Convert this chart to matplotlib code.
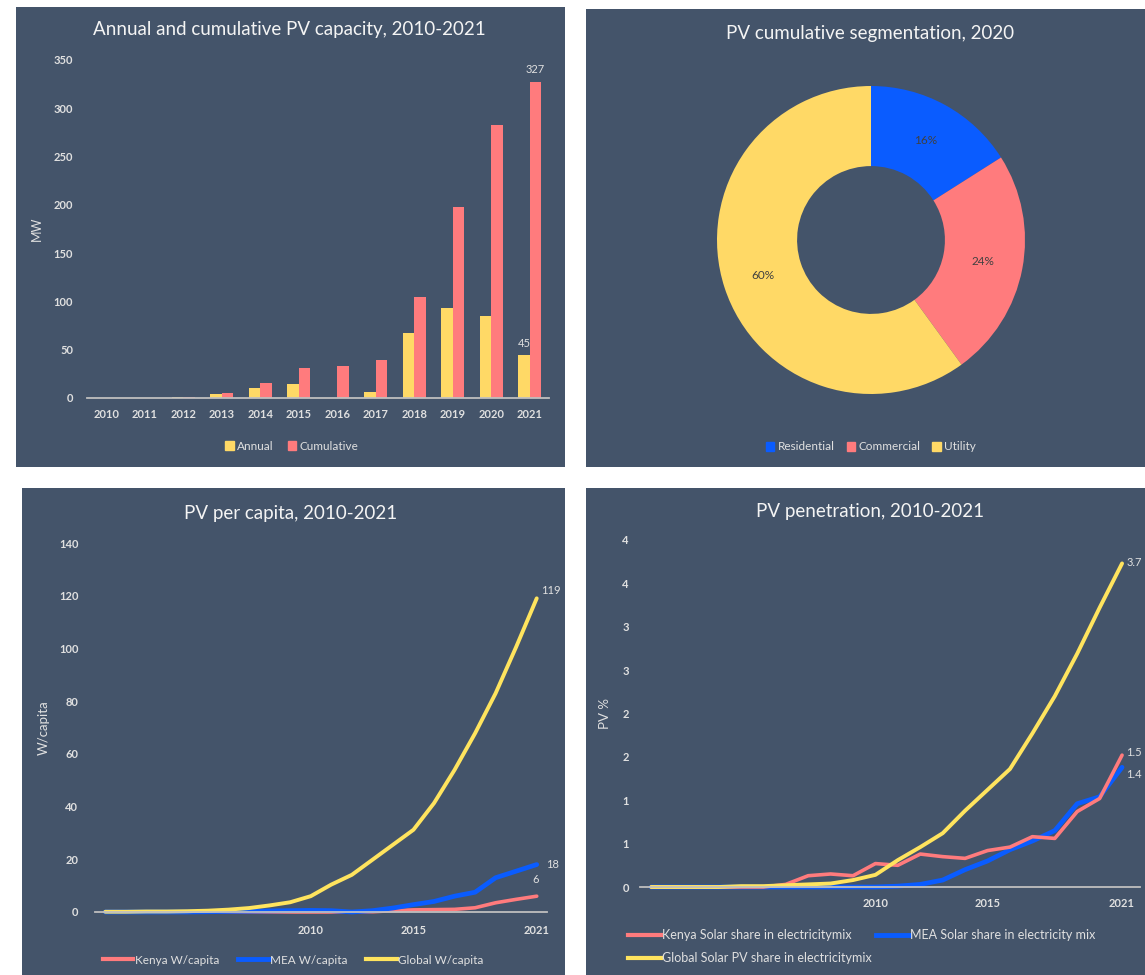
import matplotlib
matplotlib.use('Agg')
import matplotlib.pyplot as plt
import numpy as np
from matplotlib.patches import Rectangle, Patch
from matplotlib.lines import Line2D

plt.rcParams['font.family'] = ['Lato', 'DejaVu Sans']

# ---------------- data ----------------
bar_years = ['2010', '2011', '2012', '2013', '2014', '2015',
             '2016', '2017', '2018', '2019', '2020', '2021']
annual_mw = [0, 0, 1, 4, 10, 14, 0, 6, 67, 93, 85, 45]
cumulative_mw = [0, 0, 1.5, 5, 16, 31, 33, 39, 105, 198, 283, 327]
bar_ticks = [0, 50, 100, 150, 200, 250, 300, 350]

seg_labels = ['Residential', 'Commercial', 'Utility']
seg_share = [16, 24, 60]

line_years = list(range(2000, 2022))
line_tick_years = [2010, 2015, 2021]
kenya_wcap = [0, 0, 0, 0, 0, 0, 0, 0, 0, 0, 0, 0, 0,
              0.1, 0.5, 0.8, 0.9, 1.0, 1.6, 3.5, 4.8, 6.0]
mea_wcap = [0, 0, 0, 0, 0, 0.1, 0.2, 0.3, 0.4, 0.5, 0.6, 0.5, 0.0,
            0.5, 1.5, 2.8, 4.0, 6.0, 7.5, 13.0, 15.5, 18.0]
global_wcap = [0.1, 0.1, 0.2, 0.2, 0.3, 0.5, 0.9, 1.5, 2.5, 3.7, 6.0,
               10.4, 14.1, 19.8, 25.5, 31.2, 41.3, 53.9, 67.8, 83.0, 100.6, 119.0]
wcap_ticks = [0, 20, 40, 60, 80, 100, 120, 140]

kenya_pen = [0, 0, 0, 0, 0, 0, 0.03, 0.13, 0.15, 0.13, 0.27, 0.25, 0.38,
             0.35, 0.33, 0.42, 0.46, 0.58, 0.56, 0.87, 1.02, 1.52]
mea_pen = [0, 0, 0, 0, 0, 0, 0, 0, 0, 0, 0, 0.01, 0.03,
           0.08, 0.20, 0.30, 0.43, 0.53, 0.65, 0.96, 1.04, 1.38]
global_pen = [0, 0, 0, 0, 0.01, 0.01, 0.02, 0.03, 0.04, 0.08, 0.14, 0.31, 0.46,
              0.62, 0.88, 1.12, 1.36, 1.77, 2.20, 2.69, 3.22, 3.73]

pen_ticks = [0, 0.5, 1, 1.5, 2, 2.5, 3, 3.5, 4]
pen_tick_labels = ['0', '1', '1', '2', '2', '3', '3', '4', '4']

# ---------------- style ----------------
W, H = 1145, 975
BG = '#44546A'
TXT = '#E0E0E0'
TITLE = '#F4F4F4'
AXIS = '#BFBFBF'
YELLOW = '#FFD966'
RED = '#FF7B7D'
BLUE = '#0A5CFF'
GYELLOW = '#FFE45E'
TICK_FS = 8
LEG_FS = 8.5
TICK_KW = dict(fontweight='bold', fontsize=TICK_FS, color=TXT)

fig = plt.figure(figsize=(W / 100, H / 100), dpi=100, facecolor='white')


def px_rect(x0, y0, x1, y1):
    return [x0 / W, 1 - y1 / H, (x1 - x0) / W, (y1 - y0) / H]


for r in [(16, 7, 565, 467), (586, 9, 1146, 467), (22, 488, 565, 976), (586, 488, 1146, 976)]:
    x0, y0, w, h = px_rect(*r)
    fig.add_artist(Rectangle((x0, y0), w, h, transform=fig.transFigure,
                             facecolor=BG, edgecolor='none', zorder=-5))


def fig_text(x, y, s, **kw):
    fig.text(x / W, 1 - y / H, s, ha='center', va='center', **kw)


def style_axes(ax, ypad, xpad):
    ax.set_facecolor('none')
    for s in ['top', 'right', 'left']:
        ax.spines[s].set_visible(False)
    ax.spines['bottom'].set_color(AXIS)
    ax.spines['bottom'].set_linewidth(1.3)
    ax.tick_params(axis='y', length=0, pad=ypad)
    ax.tick_params(axis='x', length=0, pad=xpad)


# ---------------- top-left: bars ----------------
ax1 = fig.add_axes(px_rect(87, 60, 549, 398))
style_axes(ax1, 10, 8)
x = np.arange(len(bar_years))
bw = 0.29
ax1.bar(x - 0.15, annual_mw, bw, color=YELLOW, label='Annual')
ax1.bar(x + 0.15, cumulative_mw, bw, color=RED, label='Cumulative')
ax1.set_xlim(-0.5, len(bar_years) - 0.5)
ax1.set_ylim(0, 350)
ax1.set_yticks(bar_ticks, [str(t) for t in bar_ticks], **TICK_KW)
ax1.set_xticks(x, bar_years, **TICK_KW)
ax1.set_ylabel('MW', color=TXT, fontsize=9)
ax1.yaxis.set_label_coords(-0.095, 0.5)
ax1.annotate(f'{cumulative_mw[-1]:.0f}', (x[-1] + 0.15, cumulative_mw[-1]), xytext=(0, 5),
             textcoords='offset points', ha='center', va='bottom', fontsize=8, color=TXT)
ax1.annotate(f'{annual_mw[-1]:.0f}', (x[-1] - 0.15, annual_mw[-1]), xytext=(0, 4),
             textcoords='offset points', ha='center', va='bottom', fontsize=8, color=TXT)
fig_text(289, 30, 'Annual and cumulative PV capacity, 2010-2021', fontsize=13.5, color=TITLE)
fig.legend(handles=[Patch(color=YELLOW, label='Annual'), Patch(color=RED, label='Cumulative')],
           loc='center', bbox_to_anchor=(292 / W, 1 - 446 / H), ncol=2, frameon=False,
           fontsize=LEG_FS, labelcolor=TXT, handlelength=0.7, handleheight=0.8,
           handletextpad=0.3, columnspacing=1.2)

# ---------------- top-right: donut ----------------
ax2 = fig.add_axes(px_rect(717, 86, 1025, 394))
wedges, texts, autotexts = ax2.pie(
    seg_share, colors=[BLUE, RED, YELLOW], startangle=90, counterclock=False,
    radius=1, wedgeprops=dict(width=0.52, edgecolor='none'),
    autopct=lambda p: f'{p:.0f}%', pctdistance=0.74,
    textprops=dict(fontsize=8.5, color='#404040'))
ax2.set_xlim(-1, 1)
ax2.set_ylim(-1, 1)
ax2.set_aspect('equal')
fig_text(870, 33, 'PV cumulative segmentation, 2020', fontsize=13.5, color=TITLE)
fig.legend(handles=[Patch(color=c, label=l) for c, l in zip([BLUE, RED, YELLOW], seg_labels)],
           loc='center', bbox_to_anchor=(871 / W, 1 - 447 / H), ncol=3, frameon=False,
           fontsize=LEG_FS, labelcolor=TXT, handlelength=0.7, handleheight=0.8,
           handletextpad=0.3, columnspacing=1.0)

# ---------------- bottom-left: per capita ----------------
ax3 = fig.add_axes(px_rect(95, 543, 547, 912))
style_axes(ax3, 12, 9)
ax3.plot(line_years, kenya_wcap, color=RED, lw=2.6, clip_on=False, solid_capstyle='round')
ax3.plot(line_years, mea_wcap, color=BLUE, lw=3.4, clip_on=False, solid_capstyle='round')
ax3.plot(line_years, global_wcap, color=GYELLOW, lw=2.8, clip_on=False, solid_capstyle='round')
ax3.set_xlim(1999.5, 2021.5)
ax3.set_ylim(0, 140)
ax3.set_yticks(wcap_ticks, [str(t) for t in wcap_ticks], **TICK_KW)
ax3.set_xticks(line_tick_years, [str(t) for t in line_tick_years], **TICK_KW)
ax3.set_ylabel('W/capita', color=TXT, fontsize=9.5)
ax3.yaxis.set_label_coords(-0.10, 0.5)
ax3.annotate(f'{global_wcap[-1]:.0f}', (line_years[-1], global_wcap[-1]), xytext=(3, 6),
             textcoords='offset points', ha='left', va='center', fontsize=8, color=TXT,
             annotation_clip=False)
ax3.annotate(f'{mea_wcap[-1]:.0f}', (line_years[-1], mea_wcap[-1]), xytext=(7, 0),
             textcoords='offset points', ha='left', va='center', fontsize=8, color=TXT,
             annotation_clip=False)
ax3.annotate(f'{kenya_wcap[-1]:.0f}', (line_years[-1], kenya_wcap[-1]), xytext=(-1, 12),
             textcoords='offset points', ha='center', va='center', fontsize=8, color=TXT,
             annotation_clip=False)
fig_text(291, 513, 'PV per capita, 2010-2021', fontsize=13.5, color=TITLE)
fig.legend(handles=[Line2D([], [], color=RED, lw=3, label='Kenya W/capita'),
                    Line2D([], [], color=BLUE, lw=3.5, label='MEA W/capita'),
                    Line2D([], [], color=GYELLOW, lw=3, label='Global W/capita')],
           loc='center', bbox_to_anchor=(293 / W, 1 - 960 / H), ncol=3, frameon=False,
           fontsize=LEG_FS, labelcolor=TXT, handlelength=2.6, handletextpad=0.1,
           columnspacing=1.6)

# ---------------- bottom-right: penetration ----------------
ax4 = fig.add_axes(px_rect(640, 540, 1140, 887))
style_axes(ax4, 8, 8)
ax4.plot(line_years, mea_pen, color=BLUE, lw=3.4, clip_on=False, solid_capstyle='round')
ax4.plot(line_years, kenya_pen, color=RED, lw=2.6, clip_on=False, solid_capstyle='round')
ax4.plot(line_years, global_pen, color=GYELLOW, lw=2.8, clip_on=False, solid_capstyle='round')
ax4.set_xlim(1999.5, 2021.8)
ax4.set_ylim(0, 4)
ax4.set_yticks(pen_ticks, pen_tick_labels, **TICK_KW)
ax4.set_xticks(line_tick_years, [str(t) for t in line_tick_years], **TICK_KW)
ax4.set_ylabel('PV %', color=TXT, fontsize=9.5)
ax4.yaxis.set_label_coords(-0.058, 0.5)
ax4.annotate(f'{global_pen[-1]:.1f}', (line_years[-1], global_pen[-1]), xytext=(3, 1),
             textcoords='offset points', ha='left', va='center', fontsize=8, color=TXT,
             annotation_clip=False)
ax4.annotate(f'{kenya_pen[-1]:.1f}', (line_years[-1], kenya_pen[-1]), xytext=(3, 2),
             textcoords='offset points', ha='left', va='center', fontsize=8, color=TXT,
             annotation_clip=False)
ax4.annotate(f'{mea_pen[-1]:.1f}', (line_years[-1], mea_pen[-1]), xytext=(3, -5),
             textcoords='offset points', ha='left', va='center', fontsize=8, color=TXT,
             annotation_clip=False)
fig_text(870, 512, 'PV penetration, 2010-2021', fontsize=13.5, color=TITLE)
for (lx, ly, col, lw, lab) in [(628, 935, RED, 3, 'Kenya Solar share in electricitymix'),
                               (876, 935, BLUE, 3.5, 'MEA Solar share in electricity mix'),
                               (628, 958, GYELLOW, 3, 'Global Solar PV share in electricitymix')]:
    fig.legend(handles=[Line2D([], [], color=col, lw=lw, label=lab)],
               loc='center left', bbox_to_anchor=(lx / W, 1 - ly / H), frameon=False,
               fontsize=9, labelcolor=TXT, handlelength=2.6, handletextpad=0.1,
               borderaxespad=0, borderpad=0)

fig.savefig('out.png', dpi=100, facecolor='white')
